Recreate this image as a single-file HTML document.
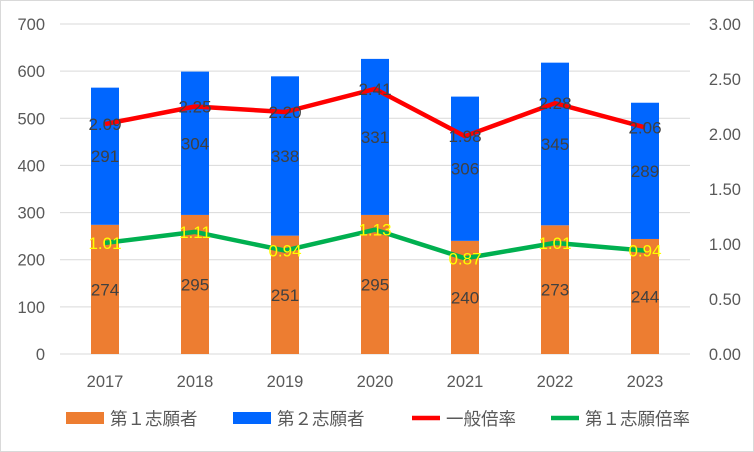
<!DOCTYPE html>
<html><head><meta charset="utf-8"><style>
body{margin:0;background:#fff;}
svg{display:block;font-family:"Liberation Sans","Noto Sans CJK JP",sans-serif;}
</style></head><body>
<svg id="c" width="754" height="452">
<rect x="0.5" y="0.5" width="753" height="451" fill="#fff" stroke="#d9d9d9"/>
<g id="grid"></g><g id="bars"></g><g id="lines"></g><g id="labels"></g><g id="axes"></g><g id="legend"></g>
</svg>
<script>
const categories=["2017","2018","2019","2020","2021","2022","2023"];
const first=[274,295,251,295,240,273,244];
const second=[291,304,338,331,306,345,289];
const general=[2.09,2.25,2.20,2.41,1.98,2.28,2.06];
const firstRatio=[1.01,1.11,0.94,1.13,0.87,1.01,0.94];
const leftTicks=[0,100,200,300,400,500,600,700];
const rightTicks=["0.00","0.50","1.00","1.50","2.00","2.50","3.00"];
const NS="http://www.w3.org/2000/svg";
const X0=60,X1=690,Y0=354,Y1=24;
const xc=i=>X0+(X1-X0)/categories.length*(i+0.5);
const yL=v=>Y0-(Y0-Y1)*v/700;
const yR=v=>Y0-(Y0-Y1)*v/3;
function el(t,a,p){const e=document.createElementNS(NS,t);for(const k in a)e.setAttribute(k,a[k]);document.getElementById(p).appendChild(e);return e;}
leftTicks.forEach(v=>{
 const l=el('line',{x1:X0,x2:X1,y1:yL(v),y2:yL(v),stroke:'#d9d9d9','stroke-width':1},'grid');
 
 
 const t=el('text',{x:45,y:yL(v)+6,'text-anchor':'end','font-size':16.5,fill:'#595959'},'axes');t.textContent=v;
 
 
});
rightTicks.forEach(v=>{
 const t=el('text',{x:741,y:yR(+v)+6,'text-anchor':'end','font-size':16.5,fill:'#595959'},'axes');t.textContent=v;
 
 
});
categories.forEach((c,i)=>{
 const t=el('text',{x:xc(i),y:387,'text-anchor':'middle','font-size':16.5,fill:'#595959'},'axes');t.textContent=c;
 
 
 const bw=28;
 const b1=el('rect',{x:xc(i)-bw/2,y:yL(first[i]),width:bw,height:Y0-yL(first[i]),fill:'#ed7d31'},'bars');
 
 
 const top=first[i]+second[i];
 const b2=el('rect',{x:xc(i)-bw/2,y:yL(top),width:bw,height:yL(first[i])-yL(top),fill:'#0066ff'},'bars');
 
 
 const t1=el('text',{x:xc(i),y:(yL(first[i])+Y0)/2+6,'text-anchor':'middle','font-size':17,fill:'#404040'},'labels');t1.textContent=first[i];
 
 
 const t2=el('text',{x:xc(i),y:(yL(first[i])+yL(top))/2+6,'text-anchor':'middle','font-size':17,fill:'#404040'},'labels');t2.textContent=second[i];
 
 
});
function line(d,color,name,lc){
 const p=el('polyline',{points:d.map((v,i)=>xc(i)+','+yR(v)).join(' '),fill:'none',stroke:color,'stroke-width':4.5,'stroke-linejoin':'round'},'lines');
 
 
 d.forEach((v,i)=>{const t=el('text',{x:xc(i),y:yR(v)+6,'text-anchor':'middle','font-size':17,fill:lc},'labels');t.textContent=v.toFixed(2);
 
 });
}
line(general,'#ff0000','general-ratio-line','#404040');
line(firstRatio,'#00b050','first-ratio-line','#ffff00');
const leg=[["rect","#ed7d31","第１志願者",66,"legend-first-applicants"],["rect","#0066ff","第２志願者",233,"legend-second-applicants"],["line","#ff0000","一般倍率",412,"legend-general-ratio"],["line","#00b050","第１志願倍率",551,"legend-first-ratio"]];
leg.forEach(([k,c,txt,x,n])=>{
 const g=el('g',{},'legend');
 
 
 if(k==='rect'){const r=document.createElementNS(NS,'rect');r.setAttribute('x',x);r.setAttribute('y',412);r.setAttribute('width',38);r.setAttribute('height',12);r.setAttribute('fill',c);g.appendChild(r);}
 else{const l=document.createElementNS(NS,'line');l.setAttribute('x1',x);l.setAttribute('x2',x+28);l.setAttribute('y1',418);l.setAttribute('y2',418);l.setAttribute('stroke',c);l.setAttribute('stroke-width',4.5);g.appendChild(l);}
 const t=document.createElementNS(NS,'text');t.setAttribute('x',k==='rect'?x+44:x+34);t.setAttribute('y',425);t.setAttribute('font-size',17.5);t.setAttribute('fill','#595959');t.textContent=txt;g.appendChild(t);
});
</script>
</body></html>
